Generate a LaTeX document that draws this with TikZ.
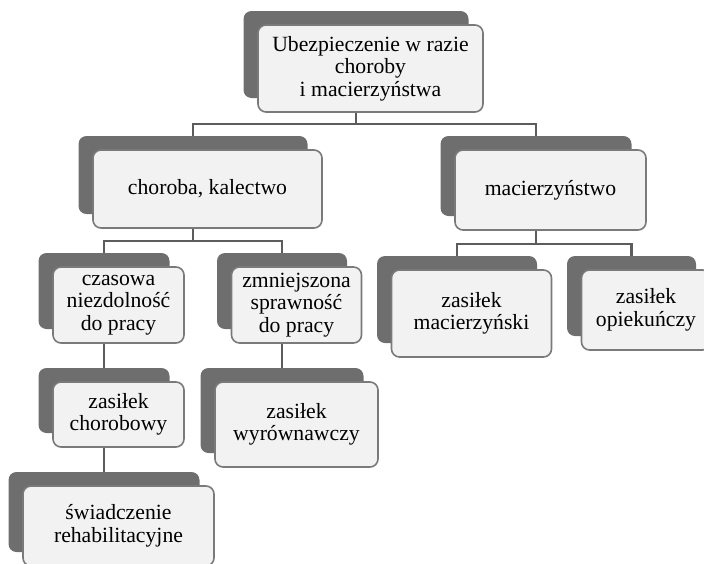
\documentclass[tikz,border=0pt]{standalone}
\usepackage{fontspec}
\setmainfont{Liberation Serif}
\usepackage{tikz}
\usetikzlibrary{positioning}
\definecolor{orgShadow}{HTML}{6E6E6E}
\definecolor{orgFill}{HTML}{F2F2F2}
\definecolor{orgLine}{HTML}{7A7A7A}
\definecolor{orgLink}{HTML}{5C5C5C}
\tikzset{
  org/shadow/.style={fill=orgShadow, rounded corners=8pt, inner sep=0pt},
  org/box/.style={draw=orgLine, line width=1.6pt, fill=orgFill, rounded corners=8pt, inner sep=2pt, align=center,
    font=\fontsize{21.7}{22.5}\selectfont},
  org/link/.style={draw=orgLink, line width=2.2pt}
}
% one card = dark shadow (name + s) and light front box (name)
\newcommand{\orgcard}[6]{%
  \node[org/shadow, minimum width=#4pt, minimum height=#5pt] (#1s) at (#2-14.5,#3-14) {};
  \node[org/box, minimum width=#4pt, minimum height=#5pt] (#1) at (#2,#3) {#6};
}

\begin{document}
\begin{tikzpicture}[x=1pt,y=-1pt]

\useasboundingbox (0,0) rectangle (704,563);

\orgcard{top}{370.5}{68.5}{225}{87}{Ubezpieczenie w razie\\choroby\\i macierzyństwa}
\orgcard{chor}{207.5}{189}{229}{78}{choroba, kalectwo}
\orgcard{mac}{550.5}{190}{191}{80}{macierzyństwo}
\orgcard{czas}{118.5}{305}{131}{76}{czasowa\\niezdolność\\do pracy}
\orgcard{zmn}{296.5}{305}{130}{76}{zmniejszona\\sprawność\\do pracy}
\orgcard{chb}{118.5}{414.5}{131}{65}{zasiłek\\chorobowy}
\orgcard{swi}{118.5}{526}{191}{80}{świadczenie\\rehabilitacyjne}
\orgcard{wyr}{296.5}{424.5}{163}{85}{zasiłek\\wyrównawczy}
\orgcard{mck}{471.5}{313.5}{160}{87}{zasiłek\\macierzyński}
\orgcard{opi}{646}{310}{129}{80}{zasiłek\\opiekuńczy}

\draw[org/link] (tops |- top.south) -- ++(0,11) -| (chors.north);
\draw[org/link] (tops |- top.south) -- ++(0,11) -| (macs.north);
\draw[org/link] (chors |- chor.south) -- ++(0,12) -| (czass.north);
\draw[org/link] (chors |- chor.south) -- ++(0,12) -| (zmns.north);
\draw[org/link] (macs |- mac.south) -- ++(0,13) -| (mcks.north);
\draw[org/link] (macs |- mac.south) -- ++(0,13) -| (opis.north);
\draw[org/link] (czass |- czas.south) -- (chbs.north);
\draw[org/link] (chbs |- chb.south) -- (swis.north);
\draw[org/link] (zmns |- zmn.south) -- (wyrs.north);

\end{tikzpicture}
\end{document}
